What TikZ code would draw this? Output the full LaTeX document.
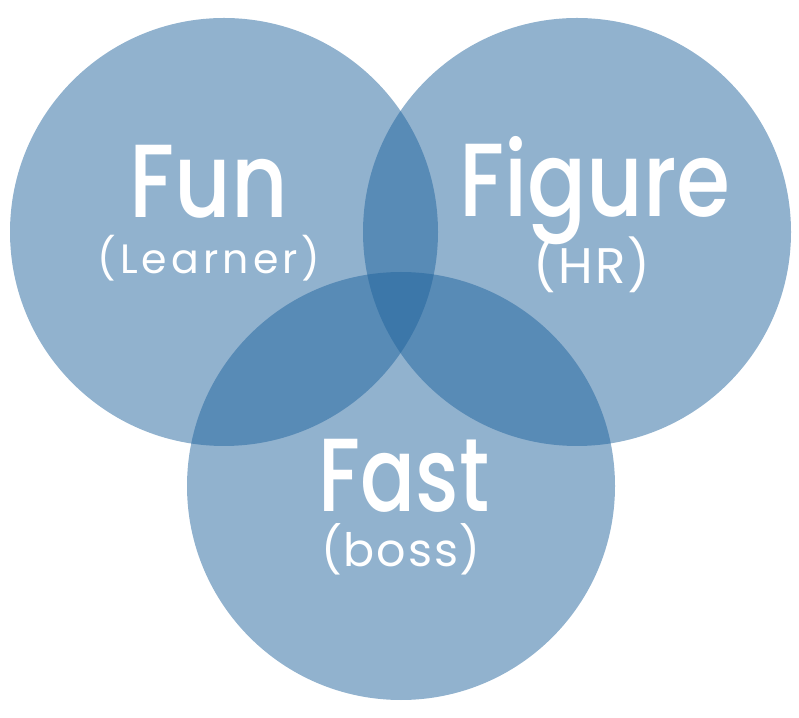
\documentclass[tikz,border=0pt]{standalone}
\usepackage{fontspec}
\setmainfont{Poppins}[UprightFont=* Medium]
\newfontfamily\subfont{Poppins}
\definecolor{vennblue}{RGB}{30,98,156}

\tikzset{
	venn/.style={fill=vennblue, fill opacity=0.49},
	headline/.style={text=white, anchor=base, inner sep=0pt, xscale=0.84, font=\fontsize{104}{104}\selectfont},
	subline/.style={text=white, anchor=base, inner sep=0pt}
}

\begin{document}
\begin{tikzpicture}[x=1pt, y=1pt]
\useasboundingbox (0,0) rectangle (799,717);

% ===== circles =====
\fill[venn] (224,485) circle[radius=214pt];
\fill[venn] (577,485) circle[radius=214pt];
\fill[venn] (401,231) circle[radius=214pt];

% ===== labels =====
\node[headline] (fun) at (209,499) {Fun};
\node[subline, font=\subfont\fontsize{41}{41}\selectfont\addfontfeature{LetterSpace=10}] (learner) at (209,443) {(Learner)};

\node[headline] (figure) at (595,500) {Figure};
\node[subline, font=\subfont\fontsize{50}{50}\selectfont\addfontfeature{LetterSpace=4}] (hr) at (592,433) {(HR)};

\node[headline, xscale=0.93] (fast) at (404,205) {Fast};
\node[subline, font=\subfont\fontsize{46}{46}\selectfont\addfontfeature{LetterSpace=4}] (boss) at (401,150) {(boss)};

\end{tikzpicture}
\end{document}
